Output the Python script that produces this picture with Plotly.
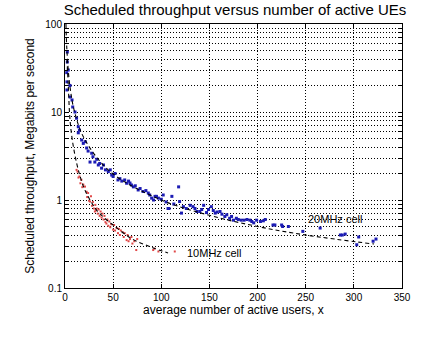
import math
import plotly.graph_objects as go

# 20 MHz cell measured points
blue_x = [1.8, 2.0, 2.0, 2.4, 2.4, 3.4, 5.2, 5.2, 7.3, 8.0, 10.4, 12, 13.8, 13.8, 15, 17.3, 19, 21, 22.5, 24,
          26, 27.7, 29, 31, 33, 34.6, 36, 38, 40, 42, 45, 47, 48.5, 50, 52, 55, 57, 59, 62, 64,
          66, 67.5, 69, 71, 73, 76, 78, 81, 84, 86.5, 88, 90, 92, 93.5, 95, 97, 100, 102, 105, 107,
          108, 111, 113, 118, 119, 121, 123, 126, 130, 133, 135, 137, 140, 142, 144, 147, 149, 152, 154, 156,
          158, 161, 163, 166, 168, 171, 173, 175, 178, 180, 183, 186, 189, 192, 194, 196, 199, 203, 206, 208,
          216, 218, 225, 226, 232, 247, 265, 286, 288, 291, 303, 305, 320, 323]
blue_y = [28, 22, 17.8, 48, 37, 30, 20, 14.8, 13.7, 11.4, 10, 8.5, 6.8, 5.8, 6.2, 4.8, 4.4, 4.6, 3.9, 3.6,
          2.7, 3.4, 3.1, 2.7, 2.9, 2.5, 2.6, 2.3, 2.5, 2.2, 2.1, 2.2, 1.92, 1.85, 2.0, 1.69, 1.75, 1.64, 1.69, 1.55,
          1.64, 1.56, 1.48, 1.41, 1.45, 1.3, 1.35, 1.25, 1.28, 1.2, 1.14, 1.05, 1.0, 1.1, 1.1, 1.05, 1.02, 1.14, 0.95, 0.8,
          0.8, 1.1, 0.9, 1.41, 0.96, 0.71, 0.84, 0.8, 0.87, 0.84, 0.8, 0.74, 0.74, 0.78, 0.87, 0.72, 0.78, 0.84, 0.76, 0.71,
          0.73, 0.74, 0.69, 0.65, 0.68, 0.62, 0.65, 0.59, 0.62, 0.6, 0.59, 0.59, 0.6, 0.59, 0.57, 0.55, 0.59, 0.57, 0.58, 0.6,
          0.52, 0.52, 0.52, 0.5, 0.5, 0.44, 0.48, 0.4, 0.4, 0.41, 0.31, 0.38, 0.34, 0.36]

# 10 MHz cell measured points
red_x = [12, 13, 14, 15, 16, 17, 18, 19, 20.8, 22.5, 23, 24, 25, 26, 27, 28, 29, 30, 31, 31.5,
         32, 33, 34, 35, 36, 37, 38, 39, 40, 41, 42, 43, 44, 45, 46, 47, 48, 50, 51, 52,
         53.7, 55, 56, 57, 58, 60, 61, 62, 64, 65, 66, 67.5, 69, 70, 72, 74, 75, 91.6, 93, 97, 114]
red_y = [2.2, 2.1, 1.8, 1.85, 1.55, 1.7, 1.4, 1.5, 1.42, 1.24, 1.08, 1.2, 0.98, 0.96, 1.1, 0.86, 0.95, 0.8, 0.74, 0.88,
         0.76, 0.8, 0.7, 0.78, 0.66, 0.74, 0.63, 0.7, 0.6, 0.66, 0.56, 0.54, 0.6, 0.51, 0.57, 0.49, 0.53, 0.46, 0.52, 0.45,
         0.48, 0.42, 0.47, 0.4, 0.45, 0.43, 0.38, 0.42, 0.35, 0.4, 0.34, 0.36, 0.38, 0.32, 0.34, 0.27, 0.36, 0.27, 0.28, 0.26, 0.26]

# fitted dashed curves
blue_fit_x = [1, 2, 5, 10, 20, 47, 100, 150, 200, 250, 321]
blue_fit_y = [100, 50, 20, 10, 5, 2.1, 1.0, 0.67, 0.5, 0.4, 0.316]
red_fit_x = [2, 3.4, 5.2, 8, 12, 15.6, 20, 26, 35, 50, 70, 90, 107]
red_fit_y = [40, 20, 8.1, 4.5, 2.65, 1.87, 1.35, 1.0, 0.72, 0.52, 0.36, 0.29, 0.25]

# curve labels (x, y in data units)
labels = ["20MHz cell", "10MHz cell"]
label_x = [250, 125]
label_y = [0.61, 0.25]

x_ticks = [0, 50, 100, 150, 200, 250, 300, 350]
y_decades = [0.1, 1, 10, 100]
y_decade_labels = ["0.1", "1", "10", "100"]

y_tickvals = []
y_ticktext = []
for i, d in enumerate(y_decades[:-1]):
    for m in range(1, 10):
        y_tickvals.append(round(d * m, 6))
        y_ticktext.append(y_decade_labels[i] if m == 1 else "")
y_tickvals.append(y_decades[-1])
y_ticktext.append(y_decade_labels[-1])

font = "Liberation Sans, Arial, sans-serif"
dash = "4px,3px"
griddash = "1px,2px"

fig = go.Figure()
fig.add_trace(go.Scatter(x=blue_x, y=blue_y, mode="markers",
                         marker=dict(color="#1c1cb4", size=3, symbol="square", line=dict(width=0)), showlegend=False))
fig.add_trace(go.Scatter(x=red_x, y=red_y, mode="markers",
                         marker=dict(color="#e04848", size=2, symbol="square", line=dict(width=0)), showlegend=False))
fig.add_trace(go.Scatter(x=blue_fit_x, y=blue_fit_y, mode="lines", line=dict(color="black", width=1.1, dash=dash),
                         line_shape="spline", showlegend=False))
fig.add_trace(go.Scatter(x=red_fit_x, y=red_fit_y, mode="lines", line=dict(color="black", width=1.1, dash=dash),
                         line_shape="spline", showlegend=False))

for t, lx, ly in zip(labels, label_x, label_y):
    fig.add_annotation(x=lx, y=math.log10(ly), xref="x", yref="y", yanchor="middle", xanchor="left", text=t,
                       showarrow=False, font=dict(family=font, size=11, color="black"))

fig.update_layout(
    width=425, height=341,
    margin=dict(l=65, r=23, t=24, b=53),
    paper_bgcolor="white", plot_bgcolor="white",
    font=dict(family=font, size=10, color="black"),
    title=dict(text="Scheduled throughput versus number of active UEs", x=0.553, xanchor="center",
               y=0.97, yanchor="middle", font=dict(family=font, size=15, color="black")),
    xaxis=dict(range=[0, 350], tickvals=x_ticks, showgrid=True, gridcolor="black", griddash=griddash, gridwidth=1,
               showline=True, linecolor="black", linewidth=1, mirror="ticks", ticks="inside", ticklen=4,
               tickcolor="black", zeroline=False,
               title=dict(text="average number of active users, x", font=dict(family=font, size=12), standoff=2)),
    yaxis=dict(type="log", range=[-1, 2], tickvals=y_tickvals, ticktext=y_ticktext, showgrid=True,
               gridcolor="black", griddash=griddash, gridwidth=1,
               showline=True, linecolor="black", linewidth=1, mirror="ticks", ticks="inside", ticklen=3,
               tickcolor="black", zeroline=False,
               title=dict(text="Scheduled throughput, Megabits per second", font=dict(family=font, size=12),
                          standoff=8)),
)

fig.write_html("out.html")
